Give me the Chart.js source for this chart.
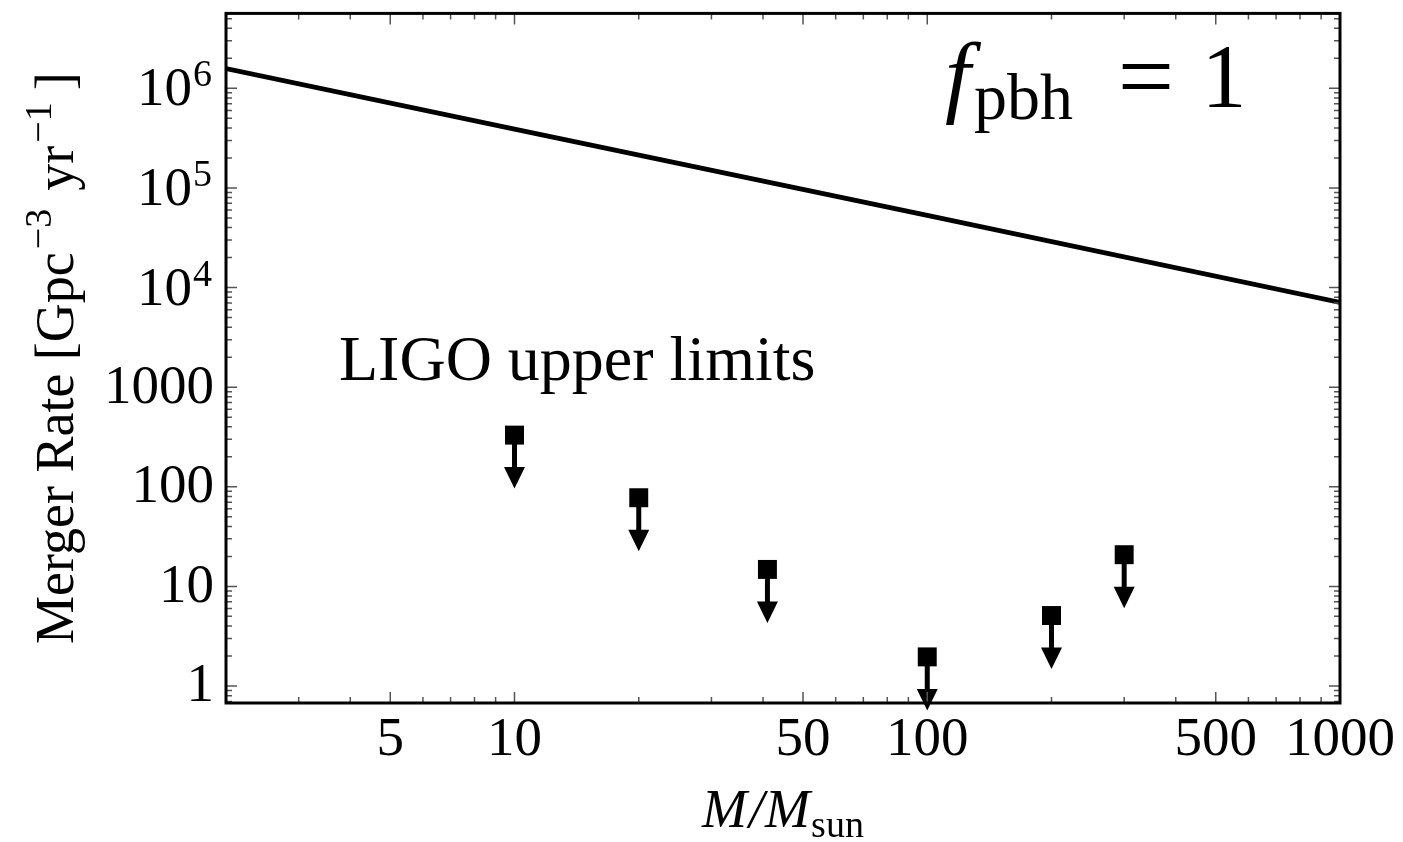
<!DOCTYPE html>
<html><head><meta charset="utf-8">
<script src="https://cdn.jsdelivr.net/npm/chart.js@4.4.1/dist/chart.umd.min.js"></script>
<style>html,body{margin:0;padding:0;background:#fff}canvas{display:block}</style>
</head><body>
<canvas id="c" width="1403" height="842"></canvas>
<script>
// ---- data ----
const massLine = [2, 10, 100, 1000];
const rateLine = [1.58e6, 3.9e5, 5.3e4, 7.1e3];
const ligoMass = [10, 20, 41, 100, 200, 300];
const ligoLimit = [330, 77.6, 14.8, 1.96, 5.1, 20.8];
const xMajorTicks = [5, 10, 50, 100, 500, 1000];
const xTickLabels = ['5', '10', '50', '100', '500', '1000'];
const xMinorTicks = [3,4,6,7,8,9,20,30,40,60,70,80,90,200,300,400,600,700,800,900];
const yMajorTicks = [1, 10, 100, 1000, 1e4, 1e5, 1e6];
const yTickBase = ['1', '10', '100', '1000', '10', '10', '10'];
const yTickSup = ['', '', '', '', '4', '5', '6'];
const xRange = [2, 1000];
const yRange = [0.675, 5.65e6];

const SERIF = "'Liberation Serif', 'Times New Roman', serif";

function yMinorTicks() {
  const out = [];
  for (let d = -1; d <= 6; d++) {
    for (let k = 2; k <= 9; k++) {
      const v = k * Math.pow(10, d);
      if (v > yRange[0] && v < yRange[1]) out.push(v);
    }
  }
  return out;
}

function drawRich(ctx, segs, x, y, align) {
  let w = 0;
  segs.forEach(s => { ctx.font = s.f; s.w = ctx.measureText(s.t).width; w += s.w + (s.gap || 0); });
  let cx = align === 'center' ? x - w / 2 : (align === 'right' ? x - w : x);
  ctx.textAlign = 'left';
  ctx.textBaseline = 'alphabetic';
  segs.forEach(s => {
    cx += (s.gap || 0);
    ctx.font = s.f;
    ctx.fillText(s.t, cx, y + (s.dy || 0));
    cx += s.w;
  });
}

const arrowPlugin = {
  id: 'arrows',
  afterDatasetsDraw(chart) {
    const meta = chart.getDatasetMeta(1);
    const ctx = chart.ctx;
    ctx.save();
    ctx.fillStyle = '#000';
    ctx.strokeStyle = '#000';
    meta.data.forEach(pt => {
      const p = pt.getProps(['x', 'y'], true);
      ctx.lineWidth = 5;
      ctx.beginPath(); ctx.moveTo(p.x, p.y); ctx.lineTo(p.x, p.y + 34); ctx.stroke();
      ctx.beginPath();
      ctx.moveTo(p.x - 10.5, p.y + 32);
      ctx.lineTo(p.x + 10.5, p.y + 32);
      ctx.lineTo(p.x, p.y + 53.5);
      ctx.closePath(); ctx.fill();
    });
    ctx.restore();
  }
};

const framePlugin = {
  id: 'frame',
  afterDraw(chart) {
    const ctx = chart.ctx;
    const {left, right, top, bottom} = chart.chartArea;
    const xs = chart.scales.x, ys = chart.scales.y;
    ctx.save();
    // ticks (inward, all four sides)
    ctx.strokeStyle = '#555';
    ctx.lineWidth = 1.5;
    const xt = (v, len) => {
      const px = xs.getPixelForValue(v);
      ctx.beginPath();
      ctx.moveTo(px, bottom); ctx.lineTo(px, bottom - len);
      ctx.moveTo(px, top); ctx.lineTo(px, top + len);
      ctx.stroke();
    };
    const yt = (v, len) => {
      const py = ys.getPixelForValue(v);
      ctx.beginPath();
      ctx.moveTo(left, py); ctx.lineTo(left + len, py);
      ctx.moveTo(right, py); ctx.lineTo(right - len, py);
      ctx.stroke();
    };
    xMajorTicks.forEach(v => xt(v, 11));
    xMinorTicks.forEach(v => xt(v, 6));
    yMajorTicks.forEach(v => yt(v, 11));
    yMinorTicks().forEach(v => yt(v, 6));
    // frame
    ctx.strokeStyle = '#000';
    ctx.lineWidth = 3;
    ctx.strokeRect(left, top, right - left, bottom - top);

    ctx.fillStyle = '#000';
    // x tick labels
    ctx.font = '55px ' + SERIF;
    ctx.textAlign = 'center';
    ctx.textBaseline = 'alphabetic';
    xMajorTicks.forEach((v, i) => {
      ctx.fillText(xTickLabels[i], xs.getPixelForValue(v), 755);
    });
    // y tick labels
    yMajorTicks.forEach((v, i) => {
      const py = ys.getPixelForValue(v);
      if (yTickSup[i]) {
        drawRich(ctx, [
          {t: yTickBase[i], f: '55px ' + SERIF, dy: 17},
          {t: yTickSup[i], f: '38px ' + SERIF, dy: -2, gap: 1}
        ], 212, py, 'right');
      } else {
        drawRich(ctx, [{t: yTickBase[i], f: '55px ' + SERIF, dy: 15.5}], 214, py, 'right');
      }
    });
    // x axis title
    drawRich(ctx, [
      {t: 'M', f: 'italic 54px ' + SERIF},
      {t: '/', f: 'italic 54px ' + SERIF, gap: 2},
      {t: 'M', f: 'italic 54px ' + SERIF, gap: 1},
      {t: 'sun', f: '38px ' + SERIF, dy: 10, gap: 1}
    ], (left + right) / 2, 827, 'center');
    // y axis title (rotated)
    ctx.save();
    ctx.translate(73, (top + bottom) / 2);
    ctx.rotate(-Math.PI / 2);
    drawRich(ctx, [
      {t: 'Merger Rate [Gpc', f: '54px ' + SERIF},
      {t: '\u22123', f: '38px ' + SERIF, dy: -22, gap: 3},
      {t: 'yr', f: '54px ' + SERIF, gap: 18},
      {t: '\u22121', f: '38px ' + SERIF, dy: -22, gap: 3},
      {t: ']', f: '54px ' + SERIF, gap: 12}
    ], 0, 0, 'center');
    ctx.restore();
    // annotations
    drawRich(ctx, [{t: 'LIGO upper limits', f: '64px ' + SERIF}], 339, 380, 'left');
    ctx.textBaseline = 'alphabetic';
    ctx.textAlign = 'left';
    ctx.font = 'italic 92px ' + SERIF;
    ctx.fillText('f', 945, 106);
    ctx.font = '66px ' + SERIF;
    ctx.fillText('pbh', 974, 119);
    ctx.textAlign = 'center';
    ctx.font = '100px ' + SERIF;
    ctx.fillText('=', 1146, 110);
    ctx.font = '90px ' + SERIF;
    ctx.fillText('1', 1224, 107);
    ctx.restore();
  }
};

new Chart(document.getElementById('c'), {
  data: {
    datasets: [
      {
        type: 'line',
        data: massLine.map((m, i) => ({x: m, y: rateLine[i]})),
        borderColor: '#000',
        borderWidth: 4.8,
        pointRadius: 0,
        tension: 0,
        fill: false
      },
      {
        type: 'scatter',
        data: ligoMass.map((m, i) => ({x: m, y: ligoLimit[i]})),
        pointStyle: 'rect',
        pointRadius: 13.4,
        backgroundColor: '#000',
        borderWidth: 0,
        clip: false
      }
    ]
  },
  options: {
    responsive: false,
    animation: false,
    events: [],
    layout: {padding: {left: 226, top: 13, right: 63, bottom: 139}},
    plugins: {legend: {display: false}, tooltip: {enabled: false}},
    scales: {
      x: {type: 'logarithmic', min: xRange[0], max: xRange[1], display: false},
      y: {type: 'logarithmic', min: yRange[0], max: yRange[1], display: false}
    }
  },
  plugins: [arrowPlugin, framePlugin]
});
</script>
</body></html>
